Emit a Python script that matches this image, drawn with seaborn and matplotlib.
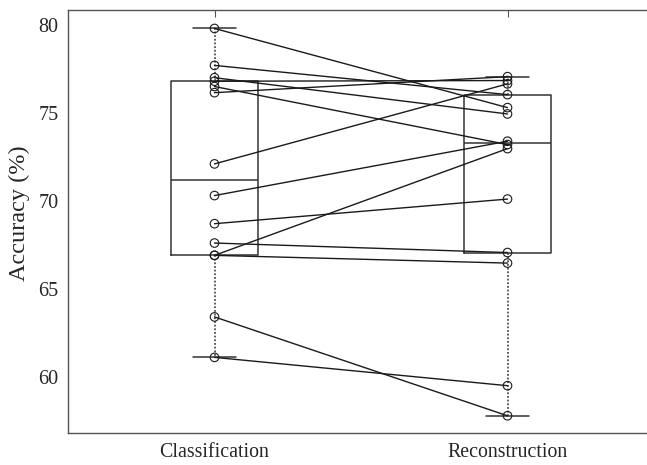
import numpy as np
import pandas as pd
import matplotlib
matplotlib.use("Agg")
import matplotlib.pyplot as plt
import seaborn as sns

# paired accuracies per subject
conditions = ["Classification", "Reconstruction"]
classification = [79.8, 77.7, 77.0, 76.8, 76.5, 76.15, 72.1, 70.3, 68.7, 67.6, 66.9, 66.9, 63.4, 61.1]
reconstruction = [75.3, 76.04, 74.94, 76.84, 73.2, 77.06, 76.65, 73.39, 70.1, 67.06, 72.97, 66.46, 57.78, 59.49]
y_ticks = [60, 65, 70, 75, 80]

sns.set_style("white")
plt.rcParams["font.family"] = ["Liberation Serif", "DejaVu Serif"]

n = len(classification)
df = pd.DataFrame({
    "subject": list(range(n)) * 2,
    "pos": [1] * n + [2] * n,
    "acc": classification + reconstruction,
})

fig = plt.figure(figsize=(6.47, 4.65), dpi=100)
ax = fig.add_axes([68 / 647, 32 / 465, 586 / 647, 423 / 465])

# box statistics the MATLAB way (hazen quantiles, whiskers to min/max)
stats = []
for vals in (classification, reconstruction):
    v = np.array(vals)
    q1, med, q3 = np.percentile(v, [25, 50, 75], method="hazen")
    stats.append(dict(med=med, q1=q1, q3=q3, whislo=v.min(), whishi=v.max(), fliers=[]))

ax.bxp(stats, positions=[1, 2], widths=0.3, capwidths=0.15, showfliers=False,
       boxprops=dict(color="#333333", lw=1.1),
       medianprops=dict(color="#333333", lw=1.1),
       whiskerprops=dict(color="#333333", lw=1.1, linestyle=(0, (1.2, 1.2))),
       capprops=dict(color="#333333", lw=1.1), zorder=1)

sns.lineplot(data=df, x="pos", y="acc", units="subject", estimator=None,
             color="#1a1a1a", lw=1.0, ax=ax, legend=False, zorder=2)
sns.scatterplot(data=df, x="pos", y="acc", ax=ax, s=38, marker="o",
                facecolor="none", edgecolor="#1a1a1a", linewidth=0.8,
                legend=False, zorder=3)

ax.set_xlim(0.5, 2.5)
ax.set_ylim(56.8, 80.85)
ax.set_xticks([1, 2])
ax.set_xticklabels(conditions, fontsize=14.3)
ax.set_yticks(y_ticks)
ax.set_yticklabels([str(t) for t in y_ticks], fontsize=14.5)
ax.set_xlabel("")
ax.set_ylabel("Accuracy (%)", fontsize=17.5)
ax.yaxis.set_label_coords(-0.064, 0.52)
ax.tick_params(direction="in", length=5, width=0.8, color="#555555",
               top=True, right=True, pad=7)
for sp in ax.spines.values():
    sp.set_visible(True)
    sp.set_color("#555555")
    sp.set_linewidth(1.0)

fig.savefig("out.png", dpi=100)
